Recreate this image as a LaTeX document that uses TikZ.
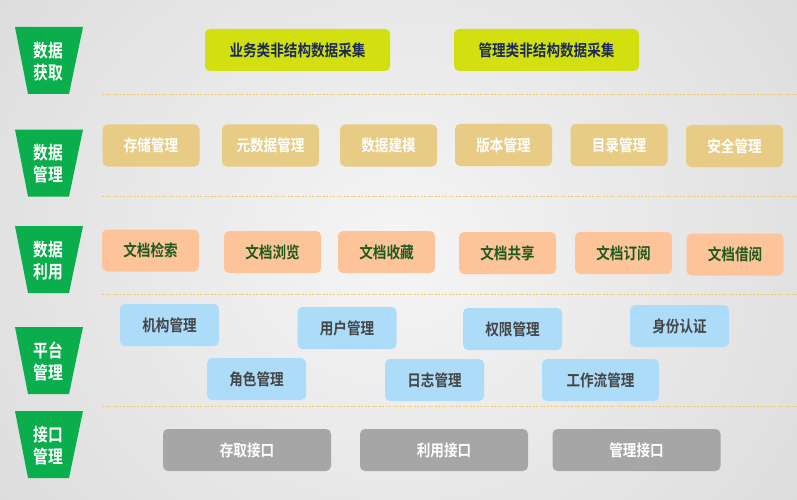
\documentclass[tikz,border=0pt]{standalone}
\usepackage{fontspec}
\newfontfamily\cjkb[FakeStretch=0.85]{Noto Sans CJK SC Bold}
\newfontfamily\cjkl[FakeStretch=0.82]{Noto Sans CJK SC Bold}
\definecolor{bgout}{HTML}{DADADA}
\definecolor{bgin}{HTML}{F5F5F5}
\definecolor{lblgreen}{HTML}{0AAE4C}
\definecolor{lime}{HTML}{D3E010}
\definecolor{navy}{HTML}{1B2A55}
\definecolor{tan}{HTML}{E8CB84}
\definecolor{peach}{HTML}{FDC49A}
\definecolor{dkgreen}{HTML}{1E5A1E}
\definecolor{sky}{HTML}{ADDCF9}
\definecolor{dkgray}{HTML}{454545}
\definecolor{midgray}{HTML}{A6A6A6}
\definecolor{sepc}{HTML}{F0C96E}
\begin{document}
\begin{tikzpicture}[x=1pt,y=-1pt,
  boxbase/.style={rounded corners=5pt, inner sep=0pt, font=\cjkb\fontsize{16}{18}\selectfont},
  limebox/.style={boxbase, fill=lime, text=navy, minimum width=185, minimum height=42},
  tanbox/.style={boxbase, fill=tan, text=white, minimum width=97, minimum height=42},
  peachbox/.style={boxbase, fill=peach, text=dkgreen, minimum width=97, minimum height=42},
  skybox/.style={boxbase, fill=sky, text=dkgray, minimum width=99, minimum height=42},
  graybox/.style={boxbase, fill=midgray, text=white, minimum width=168, minimum height=42},
  sep/.style={draw=sepc, line width=0.8pt, dash pattern=on 2pt off 1.5pt},
  lbltxt/.style={text=white, align=center, font=\cjkl\fontsize{18}{22}\selectfont, inner sep=0pt}
]
\useasboundingbox (0,0) rectangle (797,500);
\shade[inner color=bgin, outer color=bgout] (-150,-250) rectangle (947,750);

% side labels (trapezoids)
\foreach \cy/\nm/\txt in {60.5/la/{数据\\获取}, 163/lb/{数据\\管理}, 259.5/lc/{数据\\利用}, 360.5/ld/{平台\\管理}, 444.5/le/{接口\\管理}}{
  \fill[lblgreen] (15,\cy-33.5) -- (83,\cy-33.5) -- (69,\cy+33.5) -- (28,\cy+33.5) -- cycle;
  \node[lbltxt] (\nm) at (48.5,\cy+1) {\txt};
}

% separators
\foreach \yy/\nm in {94.5/s1, 196/s2, 294.5/s3, 406/s4}{
  \coordinate (\nm a) at (102,\yy);
  \coordinate (\nm b) at (797,\yy);
  \draw[sep] (\nm a) -- (\nm b);
}

% row 1
\node[limebox] (a1) at (297.5,50) {业务类非结构数据采集};
\node[limebox] (a2) at (546.5,50) {管理类非结构数据采集};

% row 2
\node[tanbox] (b1) at (151,145.5) {存储管理};
\node[tanbox] (b2) at (270.5,145.5) {元数据管理};
\node[tanbox] (b3) at (388.5,145.5) {数据建模};
\node[tanbox] (b4) at (503.5,145) {版本管理};
\node[tanbox] (b5) at (619,145) {目录管理};
\node[tanbox] (b6) at (734.5,146) {安全管理};

% row 3
\node[peachbox] (c1) at (150.5,250.5) {文档检索};
\node[peachbox] (c2) at (272.5,252) {文档浏览};
\node[peachbox] (c3) at (386.5,252) {文档收藏};
\node[peachbox] (c4) at (507.5,253) {文档共享};
\node[peachbox] (c5) at (623.5,253) {文档订阅};
\node[peachbox] (c6) at (735,254.5) {文档借阅};

% row 4
\node[skybox] (d1) at (169.5,325) {机构管理};
\node[skybox] (d2) at (347,328) {用户管理};
\node[skybox] (d3) at (512.5,329) {权限管理};
\node[skybox] (d4) at (679.5,326) {身份认证};
\node[skybox] (d5) at (256.5,379) {角色管理};
\node[skybox] (d6) at (434.5,380) {日志管理};
\node[skybox, minimum width=117] (d7) at (600.5,380) {工作流管理};

% row 5
\node[graybox] (e1) at (247,450) {存取接口};
\node[graybox] (e2) at (444,450) {利用接口};
\node[graybox] (e3) at (636.5,450) {管理接口};
\end{tikzpicture}
\end{document}
